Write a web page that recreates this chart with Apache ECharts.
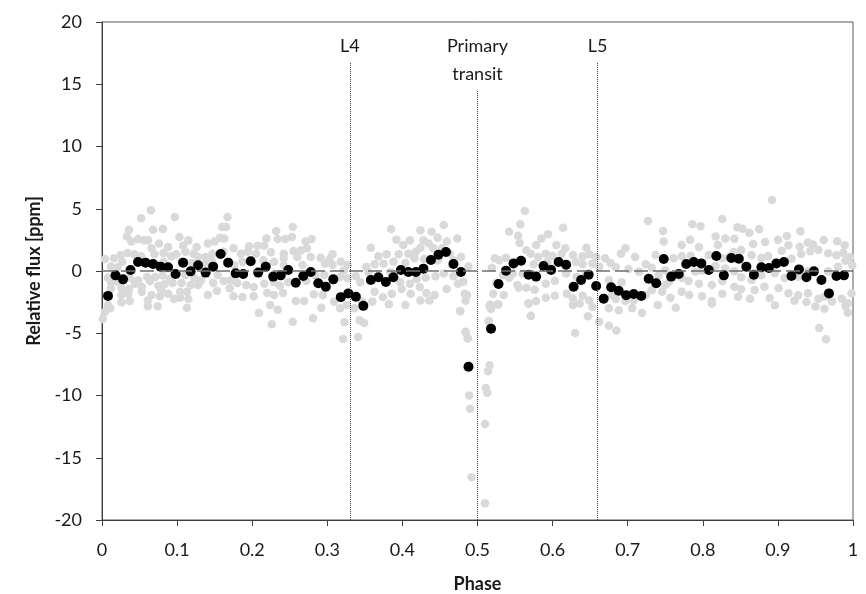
<!DOCTYPE html>
<html lang="en">
<head>
    <meta charset="UTF-8">
    <title>Phase curve</title>
    <script src="https://cdn.jsdelivr.net/npm/echarts@6/dist/echarts.min.js"></script>
</head>
<body style="margin:0">
<div id="myChart" style="width: 866px;height: 594px;"></div>
<script>
    // binned flux (black), one bin every 0.01 in phase, first at 0.008
    var binStart = 0.008, binStep = 0.01;
    var blackFlux = [
        -2.0, -0.35, -0.67, 0.08, 0.72, 0.67, 0.56, 0.35, 0.3, -0.24,
        0.67, -0.03, 0.46, -0.13, 0.35, 1.37, 0.67, -0.19, -0.24, 0.78,
        -0.13, 0.35, -0.45, -0.35, 0.08, -0.94, -0.4, -0.08, -0.99, -1.26,
        -0.67, -2.1, -1.8, -2.06, -2.8, -0.72, -0.5, -0.88, -0.5, 0.08,
        -0.08, -0.08, 0.19, 0.88, 1.31, 1.53, 0.56, -0.08, -7.69, null,
        null, -4.63, -1.04, 0.03, 0.61, 0.83, -0.3, -0.45, 0.4, 0.08,
        0.72, 0.5, -1.26, -0.72, -0.3, -1.2, -2.22, -1.31, -1.58, -1.95,
        -1.85, -2.0, -0.62, -0.99, 0.96, -0.45, -0.24, 0.56, 0.72, 0.61,
        0.08, 1.2, -0.35, 1.04, 0.99, 0.35, -0.3, 0.3, 0.24, 0.61,
        0.72, -0.4, 0.13, -0.5, -0.03, -0.72, -1.8, -0.4, -0.35
    ];

    // unbinned points (grey), [phase, flux]
    var grayA = [
        [0.065,4.87],[0.052,4.23],[0.097,4.34],[0.036,3.32],[0.033,2.78],[0.068,3.32],[0.081,3.37],[0.039,2.36],[0.048,2.57],[0.056,2.46],[0.061,2.46],[0.103,2.73],[0.115,2.46],[0.076,2.2],[0.066,1.82],[0.088,1.93],[0.108,2.03],[0.126,1.93],[0.141,2.2],[0.15,2.36],[0.157,2.68],[0.16,3.53],
        [0.004,0.96],[0.016,1.02],[0.025,1.29],[0.027,0.75],[0.034,1.45],[0.043,1.34],[0.052,1.18],[0.07,1.34],[0.082,1.45],[0.092,1.18],[0.099,1.34],[0.111,1.55],[0.122,1.39],[0.128,1.12],[0.138,1.12],[0.147,1.39],[0.162,1.55],
        [0.012,0.37],[0.021,0.32],[0.074,0.48],[0.082,0.75],[0.106,0.75],[0.12,0.64],[0.138,0.64],[0.146,0.86],
        [0.008,-0.54],[0.012,-0.91],[0.021,-0.86],[0.037,-0.54],[0.048,-0.75],[0.06,-0.48],[0.071,-0.48],[0.081,-0.37],[0.09,-0.64],[0.111,-0.32],[0.123,-0.59],[0.132,-0.75],[0.154,-0.32],
        [0.012,-1.39],[0.026,-1.39],[0.036,-1.45],[0.044,-1.02],[0.053,-1.29],[0.064,-0.8],[0.075,-1.18],[0.083,-1.07],[0.094,-0.96],[0.106,-0.96],[0.118,-1.12],[0.128,-1.12],[0.148,-0.96],[0.162,-0.8],
        [0.026,-1.93],[0.035,-1.82],[0.053,-1.66],[0.066,-1.93],[0.079,-1.55],[0.088,-1.82],[0.104,-1.66],[0.113,-1.66],[0.141,-1.93],[0.153,-1.61],
        [0.026,-2.52],[0.037,-2.41],[0.061,-2.36],[0.077,-2.03],[0.096,-2.25],[0.104,-2.14],[0.115,-2.25],
        [0.001,-3.86],[0.011,-3.0],[0.008,-2.73],[0.061,-2.84],[0.074,-2.84],[0.113,-2.95],[0.004,-3.27]
    ];
    var grayB = [
        [0.167,4.34],[0.165,3.53],[0.163,2.62],[0.232,3.21],[0.254,3.53],[0.219,2.62],[0.234,2.57],[0.244,2.57],[0.253,2.73],[0.279,2.57],[0.271,2.36],[0.175,1.82],[0.196,1.98],[0.207,2.03],[0.216,2.03],[0.185,1.39],[0.194,1.55],[0.205,1.39],[0.225,1.5],[0.242,1.39],[0.255,1.61],[0.265,1.66],[0.273,1.82],[0.242,1.02],[0.26,1.12],[0.278,1.12],[0.291,1.07],[0.303,0.96],[0.307,1.34],[0.318,0.75],[0.176,0.48],[0.187,0.75],[0.215,0.86],[0.229,0.75],[0.242,0.48],[0.267,0.48],[0.297,0.59],[0.307,0.48],[0.322,0.05],[0.327,0.48],
        [0.171,-0.75],[0.17,-1.39],[0.18,-0.96],[0.192,-1.12],[0.202,-1.29],[0.216,-1.02],[0.229,-0.91],[0.237,-1.18],[0.248,-0.91],[0.272,-0.8],[0.284,-0.37],[0.296,-0.32],[0.317,-0.48],[0.327,-0.59],
        [0.175,-2.03],[0.187,-2.09],[0.202,-2.03],[0.22,-1.77],[0.229,-1.93],[0.241,-1.77],[0.258,-2.41],[0.269,-2.41],[0.282,-1.87],[0.294,-1.93],[0.309,-2.46],[0.317,-3.0],[0.209,-3.37],[0.234,-3.11],[0.224,-2.73],[0.226,-4.28],[0.254,-4.07],[0.281,-3.8],[0.292,-2.95],[0.323,-4.12],[0.321,-5.46],[0.326,-2.73]
    ];
    var grayC = [
        [0.385,3.37],[0.424,3.27],[0.439,3.16],[0.455,3.69],[0.392,2.52],[0.401,2.09],[0.41,2.46],[0.428,2.46],[0.435,2.2],[0.447,2.68],[0.459,2.36],[0.473,2.62],[0.358,1.87],[0.368,1.18],[0.379,1.34],[0.395,1.34],[0.408,1.39],[0.418,1.55],[0.424,1.87],[0.441,1.82],[0.453,1.82],[0.463,1.39],[0.478,1.12],[0.352,0.32],[0.363,0.54],[0.375,0.59],[0.388,0.75],[0.404,0.64],[0.416,1.02],[0.429,0.96],[0.447,0.86],[0.468,0.86],[0.488,0.37],
        [0.338,-0.43],[0.344,-0.91],[0.355,-0.11],[0.384,-0.11],[0.397,-0.91],[0.41,-1.02],[0.419,-0.64],[0.431,-0.54],[0.444,-0.43],[0.455,-0.21],[0.468,-0.43],[0.481,-0.86],
        [0.363,-1.66],[0.374,-2.09],[0.386,-1.82],[0.399,-1.45],[0.411,-1.82],[0.423,-1.29],[0.432,-1.77],[0.443,-1.93],[0.459,-1.45],[0.474,-1.02],[0.483,-1.82],[0.346,-2.46],[0.36,-2.46],[0.382,-2.68],[0.404,-2.73],[0.424,-2.36],[0.436,-2.36],[0.343,-3.96],[0.349,-4.18],[0.477,-3.21],[0.486,-1.93],[0.484,-4.87],[0.487,-5.41],[0.341,-5.3],[0.336,-3.0]
    ];
    var grayTransit = [
        [0.484,-2.38],[0.517,-2.7],[0.528,-2.7],[0.568,-2.6],[0.571,-3.61],[0.477,-3.24],[0.484,-4.9],[0.487,-5.43],[0.515,-4.04],[0.516,-7.58],[0.514,-8.06],[0.511,-9.39],[0.513,-9.77],[0.489,-9.99],[0.49,-11.06],[0.51,-12.29],[0.492,-16.57],[0.51,-18.66]
    ];
    var grayD = [
        [0.563,4.82],[0.557,3.75],[0.542,3.16],[0.554,2.84],[0.614,3.48],[0.585,2.62],[0.594,2.95],[0.556,2.25],[0.565,1.66],[0.578,2.09],[0.605,2.09],[0.617,1.82],[0.645,1.87],[0.523,1.02],[0.529,0.86],[0.538,1.07],[0.571,1.39],[0.581,1.12],[0.591,1.39],[0.6,1.23],[0.612,1.39],[0.627,1.29],[0.64,1.18],[0.649,1.34],[0.658,1.12],[0.519,0.27],[0.534,-0.32],[0.547,-0.21],[0.56,-0.21],[0.575,0.54],[0.593,0.75],[0.599,0.21],[0.631,0.75],[0.64,0.54],[0.653,0.59],[0.662,0.37],
        [0.525,-0.96],[0.542,-0.54],[0.553,-1.12],[0.565,-1.34],[0.576,-1.5],[0.591,-1.02],[0.603,-0.8],[0.618,-0.21],[0.632,-0.48],[0.644,-0.32],[0.521,-1.82],[0.535,-1.93],[0.555,-1.34],[0.591,-2.14],[0.603,-1.98],[0.619,-1.82],[0.627,-2.2],[0.64,-1.98],[0.649,-2.36],[0.516,-2.84],[0.527,-2.68],[0.518,-3.05],[0.568,-2.62],[0.578,-2.41],[0.627,-2.73],[0.636,-2.62],[0.653,-2.89],[0.571,-3.59],[0.515,-4.02],[0.63,-4.98],[0.647,-3.64],[0.662,-4.07]
    ];
    var grayE = [
        [0.727,4.02],[0.747,3.21],[0.786,3.75],[0.797,3.59],[0.826,4.18],[0.697,1.82],[0.691,1.39],[0.748,2.36],[0.772,2.09],[0.783,2.52],[0.795,1.93],[0.817,2.78],[0.82,2.09],[0.83,2.62],[0.67,1.02],[0.677,0.64],[0.71,1.12],[0.724,0.54],[0.737,1.29],[0.761,1.02],[0.772,1.18],[0.784,1.23],[0.808,1.29],[0.826,1.02],[0.835,1.12],[0.684,0.32],[0.701,0.16],[0.715,-0.05],[0.732,0.27],[0.75,0.05],[0.772,-0.54],[0.79,-0.05],[0.799,0.05],[0.817,0.43],[0.83,0.21],
        [0.675,-0.75],[0.692,-0.91],[0.741,-0.37],[0.75,-1.12],[0.755,-0.86],[0.781,-0.8],[0.795,-1.02],[0.812,-1.12],[0.826,-0.8],
        [0.684,-2.25],[0.679,-1.93],[0.697,-2.41],[0.708,-2.36],[0.724,-1.93],[0.732,-1.55],[0.746,-1.66],[0.757,-2.14],[0.772,-1.66],[0.782,-1.93],[0.799,-2.03],[0.812,-2.41],[0.826,-1.82],[0.675,-3.0],[0.688,-3.16],[0.706,-3.0],[0.719,-3.37],[0.74,-2.73],[0.764,-2.95],[0.675,-4.39],[0.685,-4.77],[0.812,-2.62]
    ];
    var grayF = [
        [0.892,5.7],[0.846,3.51],[0.853,3.4],[0.862,3.08],[0.875,3.35],[0.93,3.19],[0.842,2.6],[0.867,2.17],[0.883,2.33],[0.9,2.49],[0.912,2.81],[0.914,2.06],[0.929,1.95],[0.94,2.28],[0.947,2.12],[0.961,2.49],[0.979,2.38],[0.989,2.06],[0.841,1.53],[0.851,1.69],[0.865,1.26],[0.878,1.04],[0.887,1.2],[0.905,1.63],[0.918,0.99],[0.931,1.37],[0.943,1.58],[0.954,1.69],[0.967,1.42],[0.978,1.26],[0.987,1.47],[0.996,1.1],[0.999,0.46],
        [0.842,-0.03],[0.851,-0.51],[0.865,-0.72],[0.878,-0.35],[0.882,-1.26],[0.896,-0.19],[0.909,-0.56],[0.927,-0.46],[0.94,-0.03],[0.967,-0.03],[0.98,0.35],[0.99,0.83],
        [0.842,-1.26],[0.851,-1.47],[0.869,-1.53],[0.901,-1.37],[0.914,-1.79],[0.927,-1.95],[0.94,-1.79],[0.954,-2.22],[0.962,-2.06],[0.972,-2.44],[0.985,-2.22],[0.993,-2.6],[0.847,-2.06],[0.863,-2.22],[0.889,-2.17],[0.896,-2.76],[0.922,-2.38],[0.938,-2.49],[0.95,-2.86],[0.962,-3.03],[0.99,-2.81],[0.993,-3.35],[0.998,-1.79],[0.955,-4.58],[0.964,-5.49]
    ];

    // marker lines: phase, top of line (flux), label
    var markPhase = [0.33, 0.5, 0.66];
    var markTop = [16.8, 14.5, 16.8];
    var markText = ['L4', 'Primary\ntransit', 'L5'];

    var grayData = grayA.concat(grayB, grayC, grayTransit, grayD, grayE, grayF);
    var blackData = [];
    for (var i = 0; i < blackFlux.length; i++) {
        if (blackFlux[i] !== null) blackData.push([+(binStart + binStep * i).toFixed(3), blackFlux[i]]);
    }
    var vLines = [];
    for (var j = 0; j < markPhase.length; j++) {
        vLines.push([
            {coord: [markPhase[j], -20]},
            {coord: [markPhase[j], markTop[j]], label: {formatter: markText[j]}}
        ]);
    }

    var font = 'Lato';
    var textColor = '#1a1a1a';
    var myChart = echarts.init(document.getElementById('myChart'));
    var option = {
        animation: false,
        textStyle: {fontFamily: font},
        grid: {
            left: 102, right: 13, top: 22, bottom: 74,
            outerBoundsMode: 'none', containLabel: false,
            show: true, borderColor: '#595959', borderWidth: 1
        },
        xAxis: {
            type: 'value', min: 0, max: 1, interval: 0.1,
            name: 'Phase', nameLocation: 'middle', nameGap: 55,
            nameTextStyle: {fontFamily: font, fontSize: 18, fontWeight: 'bold', color: textColor},
            axisLine: {onZero: false, lineStyle: {color: '#404040', width: 1}},
            axisTick: {show: true, length: 6, lineStyle: {color: '#404040'}},
            axisLabel: {fontFamily: font, fontSize: 18, color: textColor, margin: 21},
            splitLine: {show: false}
        },
        yAxis: {
            type: 'value', min: -20, max: 20, interval: 5,
            name: 'Relative flux [ppm]', nameLocation: 'middle', nameGap: 57,
            nameTextStyle: {fontFamily: font, fontSize: 18, fontWeight: 'bold', color: textColor},
            axisLine: {show: true, lineStyle: {color: '#404040', width: 1}},
            axisTick: {show: true, length: 6, lineStyle: {color: '#404040'}},
            axisLabel: {fontFamily: font, fontSize: 18, color: textColor, margin: 20},
            splitLine: {show: false}
        },
        series: [
            {
                type: 'scatter',
                data: grayData,
                symbolSize: 8.5,
                itemStyle: {color: '#d9d9d9', opacity: 1},
                silent: true,
                z: 2,
                markLine: {
                    silent: true,
                    symbol: ['none', 'none'],
                    label: {show: false},
                    lineStyle: {color: '#6f6f6f', type: [14, 5], width: 1.5},
                    data: [{yAxis: 0}]
                }
            },
            {
                type: 'scatter',
                data: blackData,
                symbolSize: 10,
                itemStyle: {color: '#000', opacity: 1},
                silent: true,
                z: 4,
                markLine: {
                    silent: true,
                    symbol: ['none', 'none'],
                    lineStyle: {color: '#404040', type: 'dotted', width: 1},
                    label: {
                        show: true, position: 'end', distance: 2,
                        fontFamily: font, fontSize: 18, color: textColor, lineHeight: 28
                    },
                    data: vLines
                }
            }
        ]
    };
    myChart.setOption(option);
</script>
</body>
</html>
